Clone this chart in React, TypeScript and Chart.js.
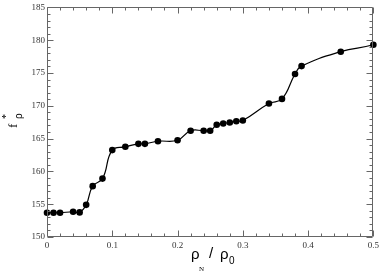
import React, { useEffect, useRef } from "react";
import { Chart, registerables } from "chart.js";

Chart.register(...registerables);

const xValues = [0, 0.01, 0.02, 0.04, 0.05, 0.06, 0.07, 0.085, 0.1, 0.12, 0.14, 0.15, 0.17, 0.2, 0.22, 0.24, 0.25, 0.26, 0.27, 0.28, 0.29, 0.3, 0.34, 0.36, 0.38, 0.39, 0.45, 0.5];
const yValues = [153.7, 153.7, 153.7, 153.85, 153.75, 154.9, 157.75, 158.9, 163.25, 163.75, 164.2, 164.2, 164.6, 164.75, 166.2, 166.2, 166.2, 167.1, 167.3, 167.45, 167.65, 167.75, 170.35, 171.05, 174.85, 176.05, 178.25, 179.3];
// curve continues past the right frame edge
const tailX = [0.51];
const tailY = [179.95];

const xMajorTicks = [0, 0.1, 0.2, 0.3, 0.4, 0.5];
const yMajorTicks = [150, 155, 160, 165, 170, 175, 180, 185];

const framePlugin = {
  id: "frameTicks",
  afterDraw(chart: any) {
    const { ctx, chartArea: a, scales } = chart;
    const xs = scales.x;
    const ys = scales.y;
    ctx.save();
    ctx.strokeStyle = "#666";
    ctx.lineWidth = 1;
    const L = Math.round(a.left) + 0.5;
    const R = Math.round(a.right) - 0.5;
    const T = Math.round(a.top) + 0.5;
    const B = Math.round(a.bottom) - 0.5;
    ctx.beginPath();
    ctx.rect(L, T, R - L, B - T);
    ctx.stroke();
    ctx.beginPath();
    for (let i = 0; i <= 25; i++) {
      const v = i * 0.02;
      const major = i % 5 === 0;
      const len = major ? 6 : 3;
      const px = Math.round(xs.getPixelForValue(v)) + 0.5;
      ctx.moveTo(px, B);
      ctx.lineTo(px, B - len);
      ctx.moveTo(px, T);
      ctx.lineTo(px, T + len);
    }
    for (let v = 150; v <= 185; v++) {
      const major = v % 5 === 0;
      const len = major ? 6 : 3;
      const py = Math.round(ys.getPixelForValue(v)) + 0.5;
      ctx.moveTo(L, py);
      ctx.lineTo(L + len, py);
      ctx.moveTo(R, py);
      ctx.lineTo(R - len, py);
    }
    ctx.stroke();

    // x-axis title: rho_N / rho_0
    ctx.fillStyle = "#000";
    ctx.textBaseline = "alphabetic";
    ctx.textAlign = "left";
    ctx.font = '15px "Liberation Sans"';
    ctx.fillText("ρ", 191, 259);
    ctx.font = '7px "Liberation Serif"';
    ctx.fillText("N", 199, 271);
    ctx.font = '15px "Liberation Sans"';
    ctx.fillText("/", 209, 258);
    ctx.fillText("ρ", 220, 259);
    ctx.font = '10px "Liberation Sans"';
    ctx.fillText("0", 229, 264);

    // y-axis title: f*_rho
    ctx.save();
    ctx.translate(17, 128);
    ctx.rotate(-Math.PI / 2);
    ctx.font = '13px "Liberation Serif"';
    ctx.fillText("f", 0, 0);
    ctx.font = '10px "Liberation Serif"';
    ctx.fillText("*", 9, -8);
    ctx.font = '10px "Liberation Sans"';
    ctx.fillText("ρ", 9, 5);
    ctx.restore();

    ctx.restore();
  },
};

export default function App() {
  const ref = useRef<HTMLCanvasElement | null>(null);
  useEffect(() => {
    document.body.style.margin = "0";
    if (!ref.current) return;
    const n = xValues.length;
    const data = xValues.map((x, i) => ({ x, y: yValues[i] }));
    tailX.forEach((x, i) => data.push({ x, y: tailY[i] }));
    const chart = new Chart(ref.current, {
      type: "line",
      data: {
        datasets: [
          {
            data,
            borderColor: "#000",
            backgroundColor: "#000",
            borderWidth: 1.2,
            tension: 0.45,
            pointRadius: (c: any) => (c.dataIndex >= n ? 0 : 3.3),
            pointBorderWidth: 0,
            pointHoverRadius: 3.3,
            clip: false as any,
          },
        ],
      },
      options: {
        animation: false,
        responsive: false,
        maintainAspectRatio: false,
        events: [],
        layout: { padding: { top: 4, right: 8, left: 0, bottom: 0 } },
        plugins: { legend: { display: false }, tooltip: { enabled: false } },
        scales: {
          x: {
            type: "linear",
            min: 0,
            max: 0.5,
            afterBuildTicks: (s: any) => {
              s.ticks = xMajorTicks.map((v) => ({ value: v }));
            },
            afterFit: (s: any) => {
              s.height = 36;
            },
            grid: { display: false, drawTicks: false },
            border: { display: false },
            ticks: {
              padding: 3,
              maxRotation: 0,
              autoSkip: false,
              color: "#333",
              font: { family: "Liberation Serif", size: 9 },
              callback: (v: any) => String(Math.round(Number(v) * 10) / 10),
            },
          },
          y: {
            type: "linear",
            min: 150,
            max: 185,
            afterBuildTicks: (s: any) => {
              s.ticks = yMajorTicks.map((v) => ({ value: v }));
            },
            afterFit: (s: any) => {
              s.width = 47;
            },
            grid: { display: false, drawTicks: false },
            border: { display: false },
            ticks: {
              padding: 2,
              autoSkip: false,
              color: "#333",
              font: { family: "Liberation Serif", size: 9 },
            },
          },
        },
      },
      plugins: [framePlugin],
    });
    return () => chart.destroy();
  }, []);
  return (
    <div style={{ position: "absolute", left: 0, top: 0, width: 382, height: 273 }}>
      <canvas ref={ref} width={382} height={273} style={{ width: 382, height: 273 }} />
    </div>
  );
}
